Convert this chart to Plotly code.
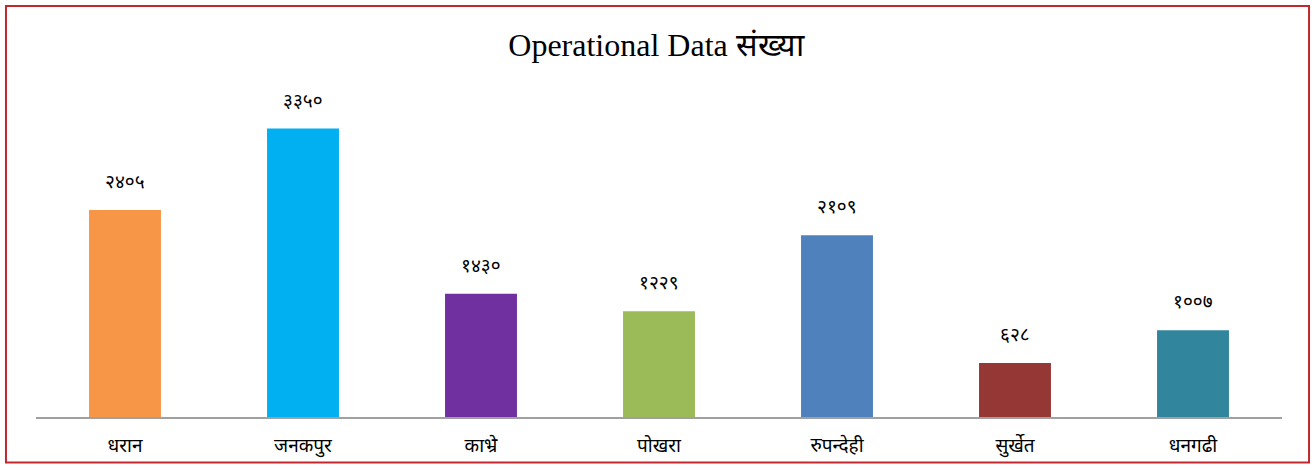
import plotly.graph_objects as go

# data
districts = ["धरान", "जनकपुर", "काभ्रे", "पोखरा", "रुपन्देही", "सुर्खेत", "धनगढी"]
counts = [2405, 3350, 1430, 1229, 2109, 628, 1007]
count_labels = ["२४०५", "३३५०", "१४३०", "१२२९", "२१०९", "६२८", "१००७"]
bar_colors = ["#F79646", "#00B0F0", "#7030A0", "#9BBB59", "#4F81BD", "#953735", "#31859C"]

fig = go.Figure()
fig.add_trace(
    go.Bar(
        x=districts,
        y=counts,
        marker=dict(color=bar_colors, line=dict(width=0)),
        hoverinfo="x+y",
    )
)

for d, v, lbl in zip(districts, counts, count_labels):
    fig.add_annotation(
        x=d, y=v, text=lbl, showarrow=False, yshift=29,
        font=dict(size=19, color="#000000", family="Noto Sans, DejaVu Sans"),
    )

# outer red frame
fig.add_shape(
    type="rect", xref="paper", yref="paper",
    x0=-0.0241, x1=1.0217, y0=-0.139, y1=1.257,
    line=dict(color="#C0282D", width=2),
)

fig.update_layout(
    width=1312,
    height=470,
    margin=dict(l=36, r=30, t=90, b=49),
    paper_bgcolor="white",
    plot_bgcolor="white",
    bargap=0.596,
    showlegend=False,
    title=dict(
        text="Operational Data संख्या",
        x=0.5, xanchor="center", y=0.905, yanchor="middle",
        font=dict(family="Liberation Serif, Times New Roman, serif", size=32, color="#000000"),
    ),
)
fig.update_xaxes(
    showline=True, linecolor="#A0A0A0", linewidth=2,
    ticks="outside", ticklen=10, tickcolor="rgba(0,0,0,0)", showgrid=False,
    tickfont=dict(size=19, color="#000000", family="Noto Sans, DejaVu Sans"),
)
fig.update_yaxes(
    range=[0, 3797], showgrid=False, showticklabels=False,
    zeroline=False, showline=False, ticks="",
)

fig.write_html("out.html", config={"displayModeBar": False},
               post_script="document.body.style.margin='0';")
